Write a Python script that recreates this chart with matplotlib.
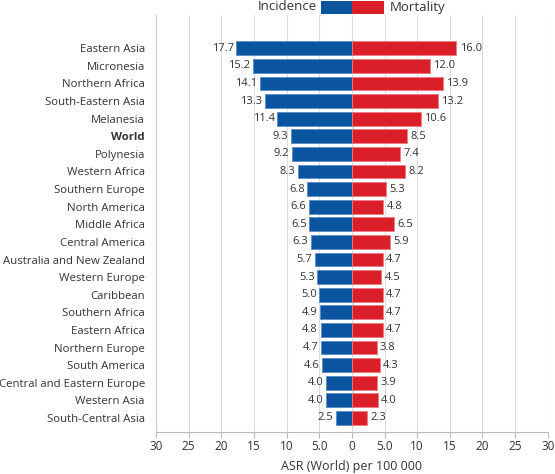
import matplotlib
matplotlib.use("Agg")
import matplotlib.pyplot as plt
from matplotlib.patches import Rectangle
import numpy as np

plt.rcParams["font.family"] = ["Open Sans", "DejaVu Sans"]

regions = ["Eastern Asia", "Micronesia", "Northern Africa", "South-Eastern Asia",
           "Melanesia", "World", "Polynesia", "Western Africa", "Southern Europe",
           "North America", "Middle Africa", "Central America",
           "Australia and New Zealand", "Western Europe", "Caribbean",
           "Southern Africa", "Eastern Africa", "Northern Europe", "South America",
           "Central and Eastern Europe", "Western Asia", "South-Central Asia"]
incidence = [17.7, 15.2, 14.1, 13.3, 11.4, 9.3, 9.2, 8.3, 6.8, 6.6, 6.5, 6.3,
             5.7, 5.3, 5.0, 4.9, 4.8, 4.7, 4.6, 4.0, 4.0, 2.5]
mortality = [16.0, 12.0, 13.9, 13.2, 10.6, 8.5, 7.4, 8.2, 5.3, 4.8, 6.5, 5.9,
             4.7, 4.5, 4.7, 4.7, 4.7, 3.8, 4.3, 3.9, 4.0, 2.3]
ticks = [-30, -25, -20, -15, -10, -5, 0, 5, 10, 15, 20, 25, 30]
tick_labels = ["30", "25", "20", "15", "10", "5.0", "0", "5.0", "10", "15", "20", "25", "30"]

BLUE = "#0B55A0"
RED = "#DB1F28"
TXT = "#333333"

fig = plt.figure(figsize=(5.55, 4.74), dpi=100)
ax = fig.add_axes([0.281, 0.0886, 0.706, 0.879])

y = np.arange(len(regions))
ax.barh(y, [-v for v in incidence], height=0.78, color=BLUE, edgecolor="#5a8cc4", linewidth=0.6, zorder=3)
ax.barh(y, mortality, height=0.78, color=RED, edgecolor="#ee7a80", linewidth=0.6, zorder=3)

for i, (a, b) in enumerate(zip(incidence, mortality)):
    ax.text(-a - 0.4, i, f"{a:.1f}", ha="right", va="center", fontsize=8, color=TXT)
    ax.text(b + 0.5, i, f"{b:.1f}", ha="left", va="center", fontsize=8, color=TXT)

ax.set_xlim(-30, 30)
ax.set_ylim(len(regions) - 1 + 0.8, -1.87)
ax.set_xticks(ticks)
ax.set_xticklabels(tick_labels, fontsize=8.5, color=TXT)
ax.set_yticks(y)
ax.set_yticklabels(regions, fontsize=8.2, color=TXT)
for lab in ax.get_yticklabels():
    if lab.get_text() == "World":
        lab.set_fontweight("bold")
ax.tick_params(axis="y", length=0, pad=8)
ax.tick_params(axis="x", length=4, color="#bbbbbb", pad=2)
ax.grid(axis="x", color="#dddddd", linewidth=0.8, zorder=0)
for s in ["top", "right"]:
    ax.spines[s].set_visible(False)
ax.spines["left"].set_color("#cccccc")
ax.spines["bottom"].set_color("#bbbbbb")
ax.set_xlabel("ASR (World) per 100 000", fontsize=9, color=TXT, labelpad=5)

# legend at the top
W, H = 555.0, 474.0
fig.add_artist(Rectangle((321 / W, 1 - 14 / H), 31 / W, 13 / H, transform=fig.transFigure,
                         facecolor=BLUE, edgecolor="none"))
fig.add_artist(Rectangle((352 / W, 1 - 14 / H), 32 / W, 13 / H, transform=fig.transFigure,
                         facecolor=RED, edgecolor="none"))
fig.text(317 / W, 1 - 7 / H, "Incidence", ha="right", va="center", fontsize=9.5, color=TXT)
fig.text(390 / W, 1 - 7 / H, "Mortality", ha="left", va="center", fontsize=9.5, color=TXT)

fig.savefig("out.png", dpi=100)
